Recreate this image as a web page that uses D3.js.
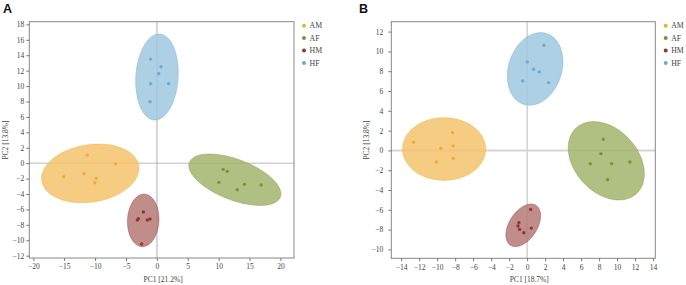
<!DOCTYPE html>
<html>
<head>
<meta charset="utf-8" />
<title>PCA</title>
<script src="https://d3js.org/d3.v7.min.js"></script>
<style>
  body { margin: 0; background: #fff; }
  text { font-family: "Liberation Serif", "Times New Roman", serif; }
  .tick text { fill: #444; font-size: 7.5px; font-family: "Liberation Serif", serif; }
  .tick line { stroke: #777; }
  .domain { stroke: none; }
  .panel-label { font-family: "Liberation Sans", Arial, sans-serif; font-weight: bold; }
</style>
</head>
<body>
<svg id="chart" width="686" height="285"></svg>
<script>
var groups = ["AM", "AF", "HM", "HF"];
var colors = ["#efae33", "#7a943a", "#953533", "#6eaad0"];
var fills  = ["#f3c36b", "#a2b46c", "#b67977", "#9fc8e0"];

// panel A : PC1 21.2%, PC2 13.8%
var pointsA = [
  [[-11.3, 1.05], [-6.7, -0.1], [-15.1, -1.76], [-11.8, -1.37], [-9.8, -1.97], [-10.05, -2.54]],
  [[10.74, -0.8], [11.39, -1.06], [10.04, -2.49], [13.0, -3.45], [14.18, -2.75], [16.88, -2.84]],
  [[-2.18, -6.34], [-3.0, -7.21], [-3.15, -7.38], [-1.54, -7.38], [-1.11, -7.25], [-2.46, -10.49]],
  [[-1.0, 13.5], [0.67, 12.5], [0.29, 11.6], [-1.0, 10.3], [1.91, 10.3], [-1.11, 7.96]]
];
// ellipse: [cx, cy, half width, half height, tilt]
var ellipsesA = [
  [-10.78, -1.33, 7.88, 3.81, 0.17],
  [12.63, -2.15, 7.45, 3.33, -0.55],
  [-2.21, -7.42, 2.55, 3.41, 0.05],
  [0.02, 11.17, 3.45, 5.58, 0.1]
];
var xTicksA = [-20, -15, -10, -5, 0, 5, 10, 15, 20];
var yTicksA = [-12, -10, -8, -6, -4, -2, 0, 2, 4, 6, 8, 10, 12, 14, 16, 18];

// panel B : PC1 18.7%, PC2 13.8%
var pointsB = [
  [[-12.63, 0.82], [-8.29, 1.79], [-9.59, 0.21], [-8.22, 0.44], [-10.11, -1.17], [-8.22, -0.8]],
  [[8.47, 1.12], [8.21, -0.33], [7.02, -1.34], [9.4, -1.34], [11.43, -1.17], [8.95, -2.96]],
  [[0.39, -5.96], [-0.91, -7.31], [-1.02, -7.64], [-0.84, -7.98], [-0.36, -8.32], [0.46, -7.85]],
  [[1.87, 10.63], [0.01, 8.94], [0.72, 8.2], [1.35, 7.93], [-0.5, 7.02], [2.39, 6.85]]
];
var ellipsesB = [
  [-9.23, 0.14, 4.62, 3.17, 0.0],
  [8.8, -1.05, 4.23, 3.96, -0.33],
  [-0.43, -7.57, 1.93, 2.15, 0.45],
  [0.89, 8.23, 3.09, 3.67, 0.2]
];
var xTicksB = [-14, -12, -10, -8, -6, -4, -2, 0, 2, 4, 6, 8, 10, 12, 14];
var yTicksB = [-10, -8, -6, -4, -2, 0, 2, 4, 6, 8, 10, 12];

var svg = d3.select("#chart");

function drawPanel(opt) {
  var x = d3.scaleLinear().domain(opt.xDomain).range(opt.xRange);
  var y = d3.scaleLinear().domain(opt.yDomain).range(opt.yRange);
  var g = svg.append("g");

  // zero lines
  g.append("line")
    .attr("x1", x(0)).attr("x2", x(0))
    .attr("y1", opt.yRange[0]).attr("y2", opt.yRange[1])
    .attr("stroke", opt.vLine.color).attr("stroke-width", opt.vLine.width);
  g.append("line")
    .attr("x1", opt.xRange[0]).attr("x2", opt.xRange[1])
    .attr("y1", y(0)).attr("y2", y(0))
    .attr("stroke", opt.hLine.color).attr("stroke-width", opt.hLine.width);

  var ts = d3.range(0, 2 * Math.PI, Math.PI / 60);
  var line = d3.line().curve(d3.curveLinearClosed);
  opt.ellipses.forEach(function(e, i) {
    var pts = ts.map(function(t) {
      var ex = e[0] + e[2] * Math.cos(t);
      var ey = e[1] + e[3] * (e[4] * Math.cos(t) + Math.sqrt(1 - e[4] * e[4]) * Math.sin(t));
      return [x(ex), y(ey)];
    });
    g.append("path")
      .attr("d", line(pts))
      .attr("fill", fills[i])
      .attr("fill-opacity", 0.85)
      .attr("stroke", colors[i])
      .attr("stroke-opacity", 0.5)
      .attr("stroke-width", 0.8);
  });

  opt.points.forEach(function(ps, i) {
    g.selectAll(null).data(ps).enter().append("circle")
      .attr("cx", function(d) { return x(d[0]); })
      .attr("cy", function(d) { return y(d[1]); })
      .attr("r", 1.7)
      .attr("fill", colors[i]);
  });

  // frame
  g.append("rect")
    .attr("x", opt.xRange[0]).attr("y", opt.yRange[1])
    .attr("width", opt.xRange[1] - opt.xRange[0])
    .attr("height", opt.yRange[0] - opt.yRange[1])
    .attr("fill", "none").attr("stroke", "#888").attr("stroke-width", 1);

  g.append("g")
    .attr("transform", "translate(0," + opt.yRange[0] + ")")
    .call(d3.axisBottom(x).tickValues(opt.xTicks).tickSize(3).tickPadding(3).tickFormat(d3.format("d")));
  g.append("g")
    .attr("transform", "translate(" + opt.xRange[0] + ",0)")
    .call(d3.axisLeft(y).tickValues(opt.yTicks).tickSize(3).tickPadding(opt.yPad).tickFormat(d3.format("d")));

  g.append("text")
    .attr("x", (opt.xRange[0] + opt.xRange[1]) / 2 + opt.xTitleShift)
    .attr("y", 282)
    .attr("text-anchor", "middle")
    .attr("font-size", 7.5).attr("fill", "#444")
    .text(opt.xTitle);
  g.append("text")
    .attr("transform", "translate(" + opt.yTitleX + ",140) rotate(-90)")
    .attr("text-anchor", "middle")
    .attr("font-size", 7.5).attr("fill", "#444")
    .text(opt.yTitle);

  g.append("text")
    .attr("class", "panel-label")
    .attr("x", opt.labelX).attr("y", 13)
    .attr("font-size", 12.5)
    .attr("fill", "#111")
    .text(opt.label);

  var leg = g.selectAll(".leg").data(groups).enter().append("g")
    .attr("transform", function(d, i) { return "translate(" + opt.legendX + "," + (25.7 + i * 12.4) + ")"; });
  leg.append("circle").attr("r", 2).attr("fill", function(d, i) { return colors[i]; });
  leg.append("text").attr("x", 5.5).attr("y", 2.6)
    .attr("font-size", 7.8).attr("fill", "#444")
    .text(function(d) { return d; });
}

drawPanel({
  xDomain: [-20.65, 22.2], yDomain: [-12.3, 18.35],
  xRange: [29.3, 294], yRange: [258, 21.7],
  points: pointsA, ellipses: ellipsesA,
  xTicks: xTicksA, yTicks: yTicksA, yPad: 2,
  vLine: { color: "#d6d6d6", width: 2 }, hLine: { color: "#aaa", width: 0.8 },
  xTitle: "PC1 [21.2%]", yTitle: "PC2 [13.8%]", xTitleShift: 1.5, yTitleX: 7.5,
  label: "A", labelX: 3, legendX: 304
});

drawPanel({
  xDomain: [-15.1, 14.25], yDomain: [-10.9, 13.0],
  xRange: [391.3, 655.3], yRange: [258.3, 21.7],
  points: pointsB, ellipses: ellipsesB,
  xTicks: xTicksB, yTicks: yTicksB, yPad: 5,
  vLine: { color: "#aaa", width: 0.8 }, hLine: { color: "#d6d6d6", width: 2 },
  xTitle: "PC1 [18.7%]", yTitle: "PC2 [13.8%]", xTitleShift: 6, yTitleX: 369,
  label: "B", labelX: 359, legendX: 665.7
});
</script>
</body>
</html>
